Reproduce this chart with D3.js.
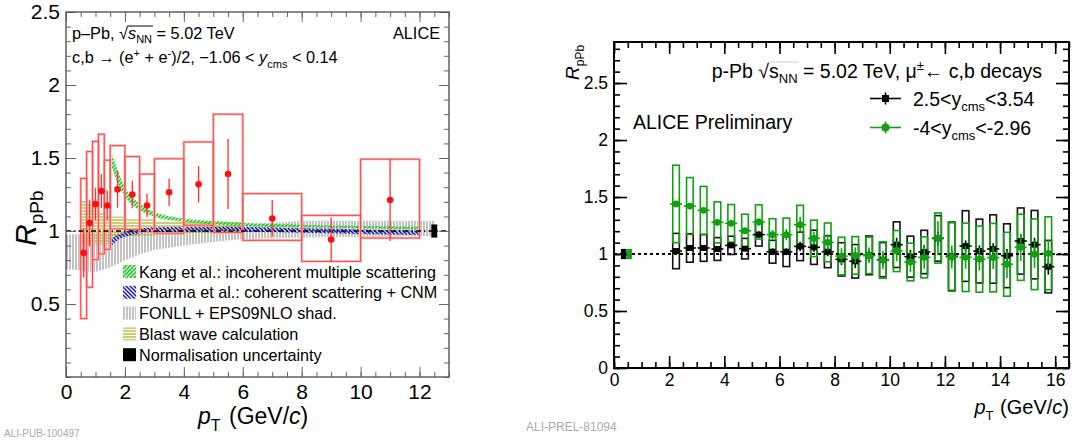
<!DOCTYPE html>
<html>
<head>
<meta charset="utf-8">
<script src="https://cdn.jsdelivr.net/npm/d3@7"></script>
<style>
  body { margin: 0; background: #fff; }
  svg { display: block; }
  text { font-family: "Liberation Sans", Arial, Helvetica, sans-serif; white-space: pre; }
</style>
</head>
<body>
<svg id="chart" width="1076" height="441"></svg>
<script>
// ---------- Left panel: heavy-flavour electrons, -1.06 < y_cms < 0.14 ----------
const elecBinLo = [0.5, 0.7, 0.9, 1.1, 1.3, 1.5, 2.0, 2.5, 3.0, 4.0, 5.0, 6.0, 8.0, 10.0];
const elecBinHi = [0.7, 0.9, 1.1, 1.3, 1.5, 2.0, 2.5, 3.0, 4.0, 5.0, 6.0, 8.0, 10.0, 12.0];
const elecPt    = [0.6, 0.8, 1.0, 1.2, 1.4, 1.75, 2.25, 2.75, 3.5, 4.5, 5.5, 7.0, 9.0, 11.0];
const elecR     = [0.85, 1.054, 1.184, 1.273, 1.175, 1.285, 1.25, 1.175, 1.265, 1.32, 1.39, 1.086, 0.942, 1.212];
const elecStat  = [0.17, 0.16, 0.11, 0.115, 0.10, 0.125, 0.095, 0.08, 0.094, 0.124, 0.24, 0.126, 0.15, 0.28];
const elecSysLo = [0.45, 0.44, 0.38, 0.43, 0.30, 0.27, 0.24, 0.18, 0.28, 0.28, 0.40, 0.15, 0.15, 0.26];
const elecSysHi = [0.51, 0.49, 0.43, 0.39, 0.31, 0.30, 0.26, 0.215, 0.23, 0.29, 0.41, 0.17, 0.165, 0.28];

// Kang et al.: incoherent multiple scattering
const kangPt = [1.55, 1.75, 2.0, 2.5, 3.0, 4.0, 5.0, 6.0, 8.0, 10.0, 12.0];
const kangLo = [1.44, 1.33, 1.235, 1.143, 1.097, 1.063, 1.045, 1.034, 1.025, 1.018, 1.011];
const kangHi = [1.53, 1.42, 1.30, 1.19, 1.13, 1.086, 1.068, 1.056, 1.043, 1.035, 1.029];

// Sharma et al.: coherent scattering + CNM
const sharmaPt = [1.55, 1.75, 2.0, 2.5, 3.0, 4.0, 6.0, 8.0, 10.0, 12.0];
const sharmaLo = [0.90, 0.937, 0.96, 0.983, 0.99, 0.994, 0.994, 0.988, 0.98, 0.972];
const sharmaHi = [0.95, 0.972, 0.994, 1.018, 1.025, 1.029, 1.027, 1.018, 1.01, 1.001];

// FONLL + EPS09NLO shadowing
const fonllPt = [0.0, 1.0, 1.5, 2.0, 2.5, 3.0, 4.0, 5.0, 6.0, 8.0, 10.0, 12.5];
const fonllLo = [0.74, 0.72, 0.75, 0.80, 0.84, 0.87, 0.90, 0.925, 0.945, 0.955, 0.96, 0.965];
const fonllHi = [0.975, 0.985, 0.99, 0.995, 1.0, 1.0, 1.01, 1.03, 1.04, 1.07, 1.07, 1.07];

// Blast wave calculation (per pT bin, step edges)
const blastPt = [0.5, 0.7, 0.9, 1.1, 1.3, 1.5, 2.0, 2.5, 3.0, 4.0, 5.0, 6.0];
const blastLo = [0.91, 0.91, 0.91, 0.91, 0.91, 0.96, 0.965, 0.97, 0.975, 0.98, 0.98, 0.98];
const blastHi = [1.21, 1.19, 1.16, 1.13, 1.10, 1.10, 1.08, 1.08, 1.07, 1.065, 1.06, 1.06];

const elecNormPt = 12.5, elecNormErr = 0.045;

const leftXTicks = [0, 2, 4, 6, 8, 10, 12];
const leftYTicks = [0.5, 1, 1.5, 2, 2.5];

// ---------- Right panel: muons from heavy-flavour decays ----------
const muPt = [2.25, 2.75, 3.25, 3.75, 4.25, 4.75, 5.25, 5.75, 6.25, 6.75, 7.25, 7.75, 8.25, 8.75,
              9.25, 9.75, 10.25, 10.75, 11.25, 11.75, 12.25, 12.75, 13.25, 13.75, 14.25, 14.75, 15.25, 15.75];
const fwdR    = [1.026, 1.053, 1.053, 1.044, 1.076, 1.047, 1.170, 1.020, 1.020, 1.067, 1.059, 1.020, 0.953, 0.936,
                 0.988, 0.950, 1.082, 0.977, 1.018, 1.137, 0.980, 1.070, 1.026, 1.044, 0.985, 1.114, 1.082, 0.889];
const fwdStat = [0.02, 0.02, 0.02, 0.02, 0.02, 0.02, 0.03, 0.03, 0.03, 0.04, 0.04, 0.04, 0.05, 0.06,
                 0.05, 0.05, 0.06, 0.06, 0.06, 0.06, 0.05, 0.05, 0.05, 0.05, 0.06, 0.06, 0.06, 0.07];
const fwdSys  = [0.155, 0.125, 0.117, 0.10, 0.08, 0.09, 0.10, 0.10, 0.13, 0.125, 0.15, 0.14, 0.146, 0.147,
                 0.17, 0.15, 0.20, 0.18, 0.19, 0.20, 0.30, 0.31, 0.28, 0.30, 0.28, 0.29, 0.30, 0.23];
const bkwR    = [1.439, 1.421, 1.383, 1.278, 1.269, 1.204, 1.281, 1.170, 1.170, 1.257, 1.137, 1.102, 0.982, 0.988,
                 0.988, 0.947, 1.026, 0.930, 0.971, 1.140, 0.974, 0.971, 0.955, 0.968, 0.910, 1.059, 0.998, 1.006];
const bkwStat = [0.02, 0.02, 0.02, 0.02, 0.025, 0.025, 0.03, 0.04, 0.05, 0.07, 0.06, 0.07, 0.07, 0.07,
                 0.07, 0.08, 0.09, 0.09, 0.10, 0.15, 0.10, 0.10, 0.10, 0.10, 0.12, 0.12, 0.12, 0.12];
const bkwSys  = [0.34, 0.25, 0.21, 0.18, 0.165, 0.145, 0.15, 0.14, 0.145, 0.17, 0.16, 0.17, 0.165, 0.165,
                 0.16, 0.16, 0.18, 0.165, 0.18, 0.22, 0.30, 0.30, 0.29, 0.30, 0.28, 0.29, 0.31, 0.32];
const muNormErr = 0.045;

const rightXTicks = [0, 2, 4, 6, 8, 10, 12, 14, 16];
const rightYTicks = [0, 0.5, 1, 1.5, 2, 2.5];

// ---------- helpers ----------
const svg = d3.select("#chart");
const defs = svg.append("defs");

function hatch(id, w, h, d, color, sw) {
  const p = defs.append("pattern").attr("id", id).attr("patternUnits", "userSpaceOnUse")
    .attr("width", w).attr("height", h);
  p.append("path").attr("d", d).attr("stroke", color).attr("stroke-width", sw).attr("fill", "none");
}
hatch("hKang", 4, 4, "M-1,1 L1,-1 M0,4 L4,0 M3,5 L5,3", "#1fcc1f", 1.6);
hatch("hSharma", 4, 4, "M-1,3 L1,5 M0,0 L4,4 M3,-1 L5,1", "#1515cc", 1.5);
hatch("hFonll", 3, 10, "M1,0 L1,10", "#9a9a9a", 1.2);
hatch("hBlast", 10, 3, "M0,1 L10,1", "#a8a200", 1.1);

// Lay out a run of text pieces (sub/superscripts, italics) left to right.
function rich(g, x, y, segs, opt = {}) {
  const grp = g.append("g");
  const inner = grp.append("g");
  let cx = 0;
  const placed = [];
  segs.forEach(s => {
    const t = inner.append("text").attr("x", cx).attr("y", s.dy || 0)
      .attr("xml:space", "preserve")
      .attr("font-size", s.size).attr("fill", opt.fill || "#000").text(s.t);
    if (s.it) t.attr("font-style", "italic");
    const w = t.node().getComputedTextLength();
    placed.push({ x: cx, w, s });
    cx += w + (s.gap || 0);
  });
  let off = 0;
  if (opt.anchor === "end") off = -cx;
  if (opt.anchor === "middle") off = -cx / 2;
  inner.attr("transform", `translate(${off},0)`);
  grp.attr("transform", `translate(${x},${y})` + (opt.rotate ? ` rotate(${opt.rotate})` : ""));
  return { inner, placed, width: cx };
}

function sqrtBar(r, idxRoot, idxTo, top, color) {
  const p0 = r.placed[idxRoot], p2 = r.placed[idxTo];
  r.inner.append("line").attr("x1", p0.x + p0.w - 0.8).attr("x2", p2.x + p2.w + 1)
    .attr("y1", top).attr("y2", top).attr("stroke", color || "#000").attr("stroke-width", 1);
}

// ====================== LEFT PANEL ======================
const L = { x0: 66, x1: 449, y0: 12, y1: 377 };
const xL = d3.scaleLinear().domain([0, 13]).range([L.x0, L.x1]);
const yL = d3.scaleLinear().domain([0, 2.5]).range([L.y1, L.y0]);
const gL = svg.append("g");

const zipBand = (pt, lo, hi) => pt.map((p, i) => ({ pt: p, lo: lo[i], hi: hi[i] }));
const areaL = curve => d3.area().curve(curve).x(d => xL(d.pt)).y0(d => yL(d.lo)).y1(d => yL(d.hi));

gL.append("path").datum(zipBand(fonllPt, fonllLo, fonllHi)).attr("d", areaL(d3.curveLinear)).attr("fill", "url(#hFonll)");
gL.append("path").datum(zipBand(blastPt, blastLo, blastHi)).attr("d", areaL(d3.curveStepAfter)).attr("fill", "url(#hBlast)");
gL.append("path").datum(zipBand(kangPt, kangLo, kangHi)).attr("d", areaL(d3.curveMonotoneX)).attr("fill", "url(#hKang)");
gL.append("path").datum(zipBand(sharmaPt, sharmaLo, sharmaHi)).attr("d", areaL(d3.curveMonotoneX)).attr("fill", "url(#hSharma)");

// systematic boxes
const elec = elecPt.map((p, i) => ({ p, r: elecR[i], st: elecStat[i], lo: elecBinLo[i], hi: elecBinHi[i],
  sl: elecSysLo[i], sh: elecSysHi[i] }));
[["#ffb0b0", 2.4], ["#ff4a4a", 1]].forEach(([c, w]) => {
  gL.append("g").selectAll("rect").data(elec).join("rect")
    .attr("x", d => xL(d.lo)).attr("width", d => xL(d.hi) - xL(d.lo))
    .attr("y", d => yL(d.r + d.sh)).attr("height", d => yL(d.r - d.sl) - yL(d.r + d.sh))
    .attr("fill", "none").attr("stroke", c).attr("stroke-width", w);
});

// reference line at unity
gL.append("line").attr("x1", L.x0).attr("x2", L.x1).attr("y1", yL(1)).attr("y2", yL(1))
  .attr("stroke", "#000").attr("stroke-width", 1.3).attr("stroke-dasharray", "5,3,1.5,3");

// normalisation uncertainty
gL.append("rect").attr("x", xL(elecNormPt - 0.1)).attr("width", xL(elecNormPt + 0.1) - xL(elecNormPt - 0.1))
  .attr("y", yL(1 + elecNormErr)).attr("height", yL(1 - elecNormErr) - yL(1 + elecNormErr)).attr("fill", "#000");

// statistical errors and points
gL.append("g").selectAll("line").data(elec).join("line")
  .attr("x1", d => xL(d.p)).attr("x2", d => xL(d.p))
  .attr("y1", d => yL(d.r + d.st)).attr("y2", d => yL(d.r - d.st))
  .attr("stroke", "#ff3030").attr("stroke-width", 1.3);
gL.append("g").selectAll("circle").data(elec).join("circle")
  .attr("cx", d => xL(d.p)).attr("cy", d => yL(d.r)).attr("r", 3.3).attr("fill", "#ff1010");

// frame and ticks
function ticksFor(g, scale, orient, pos, major, minor, majLen, minLen, color, width, labels, fs, pad) {
  const mk = { bottom: d3.axisBottom, top: d3.axisTop, left: d3.axisLeft, right: d3.axisRight }[orient];
  const tr = (orient === "bottom" || orient === "top") ? `translate(0,${pos})` : `translate(${pos},0)`;
  const gm = g.append("g").attr("transform", tr)
    .call(mk(scale).tickValues(minor).tickSize(-minLen).tickFormat(""));
  const gM = g.append("g").attr("transform", tr)
    .call(mk(scale).tickValues(major).tickSize(-majLen).tickPadding(pad || 0)
      .tickFormat(labels ? d3.format("~g") : ""));
  [gm, gM].forEach(a => {
    a.select(".domain").remove();
    a.selectAll("line").attr("stroke", color).attr("stroke-width", width);
    a.selectAll("text").attr("font-size", fs).attr("fill", "#000")
      .attr("font-family", '"Liberation Sans", Arial, sans-serif');
  });
  return gM;
}
const lMinorX = d3.range(0, 13.01, 0.5);
const lMinorY = d3.range(0, 2.501, 0.1);
ticksFor(gL, xL, "bottom", L.y1, leftXTicks, lMinorX, 10, 5, "#666", 1, true, 21, 7);
ticksFor(gL, xL, "top", L.y0, leftXTicks, lMinorX, 10, 5, "#666", 1, false, 0, 0);
ticksFor(gL, yL, "left", L.x0, leftYTicks, lMinorY, 10, 5, "#666", 1, true, 21, 6);
ticksFor(gL, yL, "right", L.x1, leftYTicks, lMinorY, 10, 5, "#666", 1, false, 0, 0);
gL.append("rect").attr("x", L.x0).attr("y", L.y0).attr("width", L.x1 - L.x0).attr("height", L.y1 - L.y0)
  .attr("fill", "none").attr("stroke", "#555").attr("stroke-width", 1.4);

// texts
const l1 = rich(gL, 72, 39, [
  { t: "p\u2013Pb, ", size: 16.3 }, { t: "\u221A", size: 16.3 }, { t: "s", size: 16.3, it: true },
  { t: "NN", size: 11, dy: 4 }, { t: " = 5.02 TeV", size: 16.3 }]);
sqrtBar(l1, 1, 3, -13);
rich(gL, 72, 63, [
  { t: "c,b \u2192 (e", size: 16.3 }, { t: "+", size: 11, dy: -6 }, { t: " + e", size: 16.3 },
  { t: "-", size: 11, dy: -6 }, { t: ")/2, \u22121.06 < ", size: 16.3 }, { t: "y", size: 16.3, it: true },
  { t: "cms", size: 11, dy: 5 }, { t: " < 0.14", size: 16.3 }]);
gL.append("text").attr("x", 440).attr("y", 39).attr("text-anchor", "end").attr("font-size", 16.3).text("ALICE");

rich(gL, 36, 246, [{ t: "R", size: 30, it: true }, { t: "pPb", size: 19, dy: 7 }], { rotate: -90 });
rich(gL, 198, 424, [{ t: "p", size: 23, it: true }, { t: "T", size: 16, dy: 7, gap: 2 },
  { t: " (GeV/", size: 23 }, { t: "c", size: 23, it: true }, { t: ")", size: 23 }]);

// legend
const legL = [
  { fill: "url(#hKang)", label: "Kang et al.: incoherent multiple scattering" },
  { fill: "url(#hSharma)", label: "Sharma et al.: coherent scattering + CNM" },
  { fill: "url(#hFonll)", label: "FONLL + EPS09NLO shad." },
  { fill: "url(#hBlast)", label: "Blast wave calculation" },
  { fill: "#000", label: "Normalisation uncertainty" }];
legL.forEach((e, i) => {
  const cy = 271.5 + i * 20.8;
  gL.append("rect").attr("x", 123).attr("y", cy - 6.5).attr("width", 13).attr("height", 13).attr("fill", e.fill);
  gL.append("text").attr("x", 139).attr("y", cy + 6).attr("font-size", 16.2).text(e.label);
});

svg.append("text").attr("x", 4).attr("y", 437).attr("font-size", 10)
  .attr("font-family", '"Liberation Mono", monospace').attr("fill", "#aaa").text("ALI-PUB-100497");

// ====================== RIGHT PANEL ======================
const R = { x0: 614, x1: 1069, y0: 42, y1: 368 };
const xR = d3.scaleLinear().domain([0, 16.5]).range([R.x0, R.x1]);
const yR = d3.scaleLinear().domain([0, 2.86]).range([R.y1, R.y0]);
const gR = svg.append("g");

const fwd = muPt.map((p, i) => ({ p, r: fwdR[i], st: fwdStat[i], sy: fwdSys[i] }));
const bkw = muPt.map((p, i) => ({ p, r: bkwR[i], st: bkwStat[i], sy: bkwSys[i] }));
const boxHalf = 0.12, barHalf = 0.22;

function sysBoxes(data, color) {
  gR.append("g").selectAll("rect").data(data).join("rect")
    .attr("x", d => xR(d.p - boxHalf)).attr("width", d => xR(d.p + boxHalf) - xR(d.p - boxHalf))
    .attr("y", d => yR(d.r + d.sy)).attr("height", d => yR(d.r - d.sy) - yR(d.r + d.sy))
    .attr("fill", "none").attr("stroke", color).attr("stroke-width", 1.6);
}
sysBoxes(fwd, "#111");
sysBoxes(bkw, "#11a011");

gR.append("line").attr("x1", R.x0).attr("x2", R.x1).attr("y1", yR(1)).attr("y2", yR(1))
  .attr("stroke", "#000").attr("stroke-width", 2).attr("stroke-dasharray", "3,3");

// normalisation boxes
gR.append("rect").attr("x", xR(0.25)).attr("width", xR(0.45) - xR(0.25))
  .attr("y", yR(1 + muNormErr)).attr("height", yR(1 - muNormErr) - yR(1 + muNormErr)).attr("fill", "#000");
gR.append("rect").attr("x", xR(0.45)).attr("width", xR(0.65) - xR(0.45))
  .attr("y", yR(1 + muNormErr)).attr("height", yR(1 - muNormErr) - yR(1 + muNormErr)).attr("fill", "#11a011");

function points(data, color, square) {
  const g = gR.append("g");
  g.append("g").selectAll("line").data(data).join("line")
    .attr("x1", d => xR(d.p - barHalf)).attr("x2", d => xR(d.p + barHalf))
    .attr("y1", d => yR(d.r)).attr("y2", d => yR(d.r)).attr("stroke", color).attr("stroke-width", 1.6);
  g.append("g").selectAll("line").data(data).join("line")
    .attr("x1", d => xR(d.p)).attr("x2", d => xR(d.p))
    .attr("y1", d => yR(d.r + d.st)).attr("y2", d => yR(d.r - d.st)).attr("stroke", color).attr("stroke-width", 1.6);
  if (square) {
    g.append("g").selectAll("rect").data(data).join("rect")
      .attr("x", d => xR(d.p) - 3).attr("y", d => yR(d.r) - 3).attr("width", 6).attr("height", 6).attr("fill", color);
  } else {
    g.append("g").selectAll("circle").data(data).join("circle")
      .attr("cx", d => xR(d.p)).attr("cy", d => yR(d.r)).attr("r", 3.4).attr("fill", color);
  }
}
points(fwd, "#000", true);
points(bkw, "#11a011", false);

const rMinorX = d3.range(0, 16.51, 0.5);
const rMinorY = d3.range(0, 2.86, 0.1);
ticksFor(gR, xR, "bottom", R.y1, rightXTicks, rMinorX, 12, 6, "#000", 1.6, true, 17.5, 6);
ticksFor(gR, xR, "top", R.y0, rightXTicks, rMinorX, 12, 6, "#000", 1.6, false, 0, 0);
ticksFor(gR, yR, "left", R.x0, rightYTicks, rMinorY, 13, 6, "#000", 1.6, true, 17.5, 6);
ticksFor(gR, yR, "right", R.x1, rightYTicks, rMinorY, 13, 6, "#000", 1.6, false, 0, 0);
gR.append("rect").attr("x", R.x0).attr("y", R.y0).attr("width", R.x1 - R.x0).attr("height", R.y1 - R.y0)
  .attr("fill", "none").attr("stroke", "#000").attr("stroke-width", 2);

const r1 = rich(gR, 1042, 78, [
  { t: "p-Pb ", size: 19.5 }, { t: "\u221A", size: 19.5 }, { t: "s", size: 19.5 }, { t: "NN", size: 13, dy: 5 },
  { t: " = 5.02 TeV, \u03BC", size: 19.5 }, { t: "\u00B1", size: 13, dy: -8 }, { t: "\u2190 c,b decays", size: 19.5 }],
  { anchor: "end" });
sqrtBar(r1, 1, 3, -16, "#ccc");

gR.append("text").attr("x", 633).attr("y", 129).attr("font-size", 19.5).text("ALICE Preliminary");

// legend
[{ y: 98.5, c: "#000", sq: true, seg: [{ t: "2.5<y", size: 19.5 }, { t: "cms", size: 13, dy: 5 }, { t: "<3.54", size: 19.5 }] },
 { y: 127.5, c: "#11a011", sq: false, seg: [{ t: "-4<y", size: 19.5 }, { t: "cms", size: 13, dy: 5 }, { t: "<-2.96", size: 19.5 }] }]
.forEach(e => {
  const cx = 885.5;
  gR.append("line").attr("x1", 870).attr("x2", 901).attr("y1", e.y).attr("y2", e.y).attr("stroke", e.c).attr("stroke-width", 1.6);
  gR.append("line").attr("x1", cx).attr("x2", cx).attr("y1", e.y - 6).attr("y2", e.y + 6).attr("stroke", e.c).attr("stroke-width", 1.6);
  if (e.sq) gR.append("rect").attr("x", cx - 3.5).attr("y", e.y - 3.5).attr("width", 7).attr("height", 7).attr("fill", e.c);
  else gR.append("circle").attr("cx", cx).attr("cy", e.y).attr("r", 4).attr("fill", e.c);
  rich(gR, 913, e.y + 7, e.seg);
});

rich(gR, 1069, 414, [{ t: "p", size: 20, it: true }, { t: "T", size: 13, dy: 6, gap: 1 },
  { t: " (GeV/", size: 20 }, { t: "c", size: 20, it: true }, { t: ")", size: 20 }], { anchor: "end" });
rich(gR, 579, 80, [{ t: "R", size: 19, it: true }, { t: "pPb", size: 12, dy: 5 }], { rotate: -90 });

svg.append("text").attr("x", 526).attr("y", 431).attr("font-size", 12)
  .attr("font-family", '"Liberation Mono", monospace').attr("fill", "#aaa").text("ALI-PREL-81094");
</script>
</body>
</html>
